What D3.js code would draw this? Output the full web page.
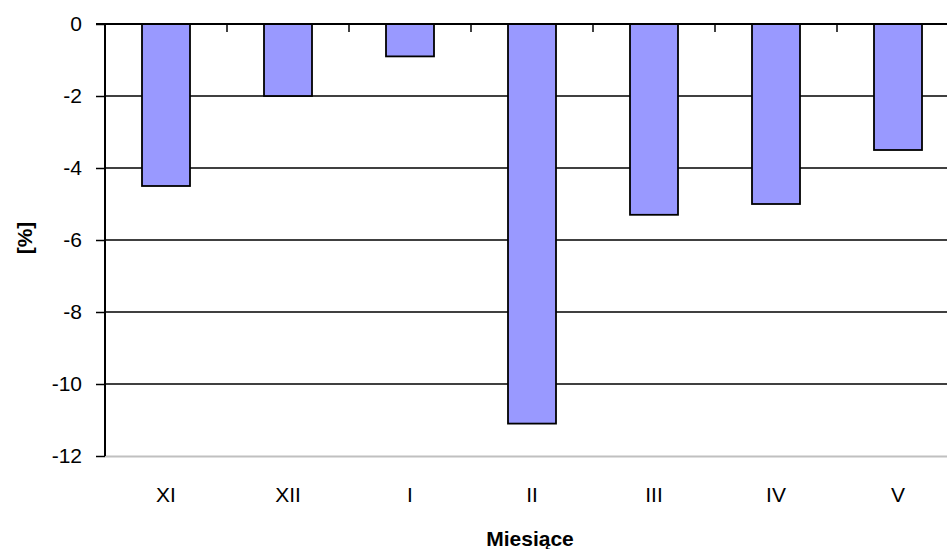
<!DOCTYPE html>
<html><head><meta charset="utf-8">
<script src="https://cdn.jsdelivr.net/npm/d3@7"></script>
<style>body{margin:0;background:#fff}svg{display:block}text{font-family:"Liberation Sans",Arial,sans-serif}</style>
</head><body><svg id="c" width="947" height="549"></svg>
<script>
const categories = ["XI","XII","I","II","III","IV","V"];
const values = [-4.5,-2.0,-0.9,-11.1,-5.3,-5.0,-3.5];
const yTicks = [0,-2,-4,-6,-8,-10,-12];

(function(){
const svg = d3.select("#c");
const L = 105, R = 959, T = 24, B = 456;
const xb = d3.scaleBand().domain(categories).range([L,R]);
const y = d3.scaleLinear().domain([-12,0]).range([B,T]);

// gridlines
svg.append("g").selectAll("line").data(yTicks.filter(d=>d!==0 && d!==-12)).join("line")
  .attr("x1",L).attr("x2",R).attr("y1",d=>y(d)).attr("y2",d=>y(d))
  .attr("stroke","#000").attr("stroke-width",1.5);
// bottom border gray
svg.append("line").attr("x1",L).attr("x2",R).attr("y1",y(-12)+0.5).attr("y2",y(-12)+0.5)
  .attr("stroke","#c0c0c0").attr("stroke-width",2);

// bars
svg.append("g").selectAll("rect").data(values).join("rect")
  .attr("x",(d,i)=>xb(categories[i])+xb.bandwidth()/2-24)
  .attr("width",48)
  .attr("y",y(0)).attr("height",d=>y(d)-y(0))
  .attr("fill","#9999ff").attr("stroke","#000").attr("stroke-width",1.8);

// y axis
const ya = svg.append("g").attr("transform",`translate(${L},0)`)
  .call(d3.axisLeft(y).tickValues(yTicks).tickSize(9).tickPadding(14).tickFormat(d=>String(d)));
ya.select(".domain").remove();
ya.selectAll("line").attr("stroke","#000").attr("stroke-width",1.5);
ya.selectAll("text").attr("font-size",21).attr("fill","#000").attr("font-family","Liberation Sans, Arial, sans-serif");
svg.append("line").attr("x1",L).attr("x2",L).attr("y1",T).attr("y2",B).attr("stroke","#000").attr("stroke-width",2);

// x axis at zero (top) with ticks at band boundaries going down
svg.append("line").attr("x1",L-9).attr("x2",R).attr("y1",y(0)).attr("y2",y(0)).attr("stroke","#000").attr("stroke-width",2);
svg.append("g").selectAll("line").data(categories.slice(1)).join("line")
  .attr("x1",d=>xb(d)).attr("x2",d=>xb(d)).attr("y1",y(0)).attr("y2",y(0)+8)
  .attr("stroke","#000").attr("stroke-width",1.5);

// category labels
svg.append("g").selectAll("text").data(categories).join("text")
  .attr("x",d=>xb(d)+xb.bandwidth()/2).attr("y",502)
  .attr("text-anchor","middle").attr("font-size",21).attr("fill","#000").text(d=>d);

// axis titles
svg.append("text").attr("x",530).attr("y",546).attr("text-anchor","middle")
  .attr("font-size",21).attr("font-weight","bold").text("Miesiące");
svg.append("text").attr("transform","translate(32,238) rotate(-90)").attr("text-anchor","middle")
  .attr("font-size",21).attr("font-weight","bold").text("[%]");
})();
</script></body></html>
